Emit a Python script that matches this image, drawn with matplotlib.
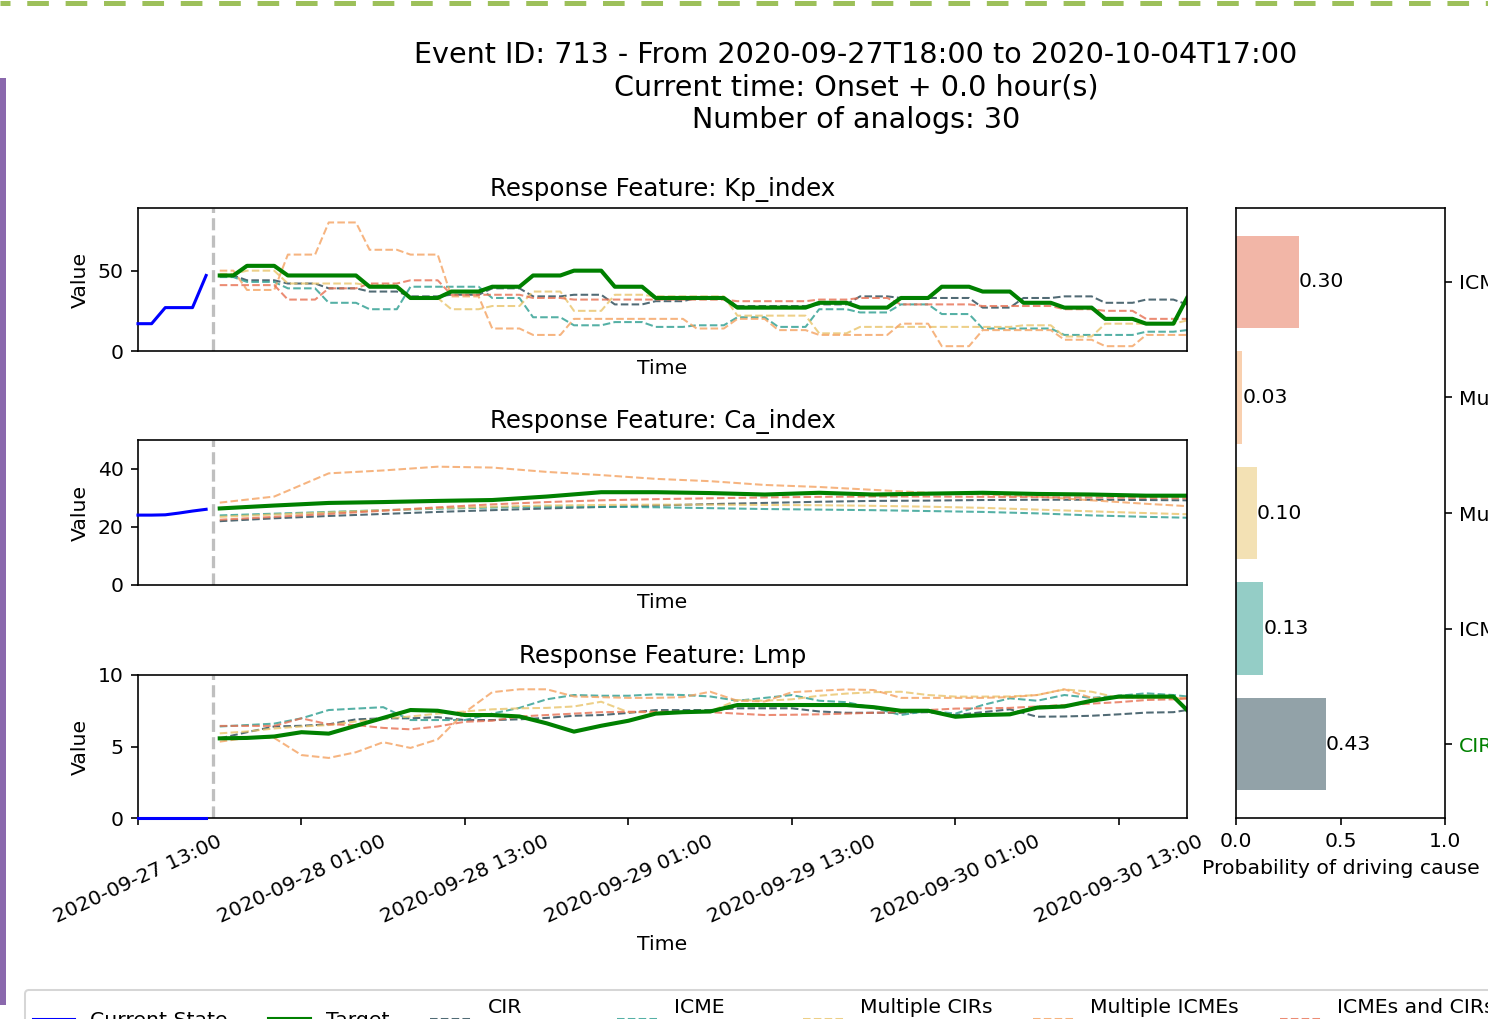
import numpy as np
import pandas as pd
import matplotlib
matplotlib.use("Agg")
import matplotlib.pyplot as plt
import matplotlib.dates as mdates
from matplotlib.lines import Line2D

# ---------------- data ----------------
categories = ["CIR", "ICME", "Multiple CIRs", "Multiple ICMEs", "ICMEs and CIRs"]
probabilities = [0.43, 0.13, 0.10, 0.03, 0.30]
target_category = "CIR"
category_colors = ["#264653", "#2a9d8f", "#e9c46a", "#f4a261", "#e76f51"]

current_times = pd.date_range("2020-09-27 13:00", periods=6, freq="h")
forecast_times = pd.date_range("2020-09-27 19:00", "2020-09-30 18:00", freq="h")
onset_time = pd.Timestamp("2020-09-27 18:30")
lmp_times = forecast_times[::2].append(forecast_times[-1:])
ca_times = forecast_times[::4].append(forecast_times[-1:])

# Kp_index (hourly)
kp_current = [17, 17, 27, 27, 27, 47]
kp_target = [47, 47,
             53, 53, 53, 47, 47, 47, 47, 47, 47, 40, 40, 40,
             33, 33, 33, 37, 37, 37, 40, 40, 40, 47, 47, 47,
             50, 50, 50, 40, 40, 40, 33, 33, 33, 33, 33, 33,
             27, 27, 27, 27, 27, 27, 30, 30, 30, 27, 27, 27,
             33, 33, 33, 40, 40, 40, 37, 37, 37, 30, 30, 30,
             27, 27, 27, 20, 20, 20, 17, 17, 17, 33]
kp_cir = [47, 47,
          44, 44, 44, 42, 42, 42, 39, 39, 39, 37, 37, 37,
          34, 34, 34, 35, 35, 35, 39, 39, 39, 34, 34, 34,
          35, 35, 35, 29, 29, 29, 31, 31, 31, 33, 33, 33,
          28, 28, 28, 28, 28, 28, 29, 29, 29, 34, 34, 34,
          33, 33, 33, 33, 33, 33, 27, 27, 27, 33, 33, 33,
          34, 34, 34, 30, 30, 30, 32, 32, 32, 29]
kp_icme = [46, 46,
           43, 43, 43, 39, 39, 39, 30, 30, 30, 26, 26, 26,
           40, 40, 40, 40, 40, 40, 33, 33, 33, 21, 21, 21,
           16, 16, 16, 18, 18, 18, 15, 15, 15, 16, 16, 16,
           21, 21, 21, 15, 15, 15, 26, 26, 26, 24, 24, 24,
           29, 29, 29, 23, 23, 23, 14, 14, 14, 14, 14, 14,
           10, 10, 10, 10, 10, 10, 12, 12, 12, 13]
kp_multi_cirs = [48, 48,
                 50, 50, 50, 42, 42, 42, 42, 42, 42, 41, 41, 41,
                 33, 33, 33, 26, 26, 26, 28, 28, 28, 37, 37, 37,
                 25, 25, 25, 35, 35, 35, 34, 34, 34, 34, 34, 34,
                 22, 22, 22, 22, 22, 22, 11, 11, 11, 15, 15, 15,
                 15, 15, 15, 15, 15, 15, 15, 15, 15, 16, 16, 16,
                 9, 9, 9, 17, 17, 17, 17, 17, 17, 19]
kp_multi_icmes = [50, 50,
                  38, 38, 38, 60, 60, 60, 80, 80, 80, 63, 63, 63,
                  60, 60, 60, 34, 34, 34, 14, 14, 14, 10, 10, 10,
                  20, 20, 20, 20, 20, 20, 20, 20, 20, 14, 14, 14,
                  20, 20, 20, 13, 13, 13, 10, 10, 10, 10, 10, 10,
                  17, 17, 17, 3, 3, 3, 13, 13, 13, 13, 13, 13,
                  7, 7, 7, 3, 3, 3, 10, 10, 10, 10]
kp_icmes_cirs = [41, 41,
                 41, 41, 41, 32, 32, 32, 39, 39, 39, 42, 42, 42,
                 44, 44, 44, 35, 35, 35, 35, 35, 35, 33, 33, 33,
                 32, 32, 32, 32, 32, 32, 32, 32, 32, 32, 32, 32,
                 31, 31, 31, 31, 31, 31, 32, 32, 32, 33, 33, 33,
                 29, 29, 29, 29, 29, 29, 28, 28, 28, 28, 28, 28,
                 26, 26, 26, 25, 25, 25, 20, 20, 20, 20]

# Ca_index (every 4 h + last hour)
ca_current = [24.1, 24.1, 24.2, 24.8, 25.5, 26.1]
ca_target = [26.4, 27.4, 28.3, 28.6, 29.0, 29.3, 30.5, 32.0, 32.0, 31.7,
             31.2, 31.8, 31.2, 31.5, 31.8, 31.4, 31.2, 30.8, 30.8]
ca_cir = [22.0, 23.0, 23.8, 24.5, 25.2, 25.8, 26.4, 26.9, 27.4, 27.9,
          28.3, 28.7, 29.0, 29.1, 29.3, 29.4, 29.4, 29.3, 29.2]
ca_icme = [24.0, 24.6, 25.2, 25.8, 26.3, 26.7, 27.0, 27.0, 26.8, 26.5,
           26.2, 26.0, 25.8, 25.5, 25.2, 24.7, 24.0, 23.5, 23.2]
ca_multi_cirs = [23.5, 24.3, 25.0, 25.8, 26.5, 27.0, 27.4, 27.6, 27.7, 27.7,
                 27.6, 27.5, 27.3, 27.0, 26.6, 26.0, 25.4, 24.8, 24.4]
ca_multi_icmes = [28.4, 30.5, 38.5, 39.5, 40.8, 40.5, 39.0, 37.9, 36.6, 35.8,
                  34.5, 33.8, 32.8, 31.8, 31.2, 30.5, 29.2, 28.0, 27.2]
ca_icmes_cirs = [22.5, 23.5, 24.5, 25.6, 26.8, 27.8, 28.6, 29.2, 29.6, 29.9,
                 30.2, 30.4, 30.5, 30.5, 30.4, 30.3, 30.2, 30.0, 29.9]

# Lmp (every 2 h + last hour)
lmp_current = [0, 0, 0, 0, 0, 0]
lmp_target = [5.57, 5.6, 5.7, 6.0, 5.9, 6.45, 7.0, 7.55, 7.5, 7.2, 7.2, 7.1,
              6.62, 6.04, 6.45, 6.8, 7.3, 7.4, 7.45, 7.9, 7.9, 7.9, 7.9, 7.9,
              7.75, 7.5, 7.5, 7.08, 7.2, 7.25, 7.72, 7.8, 8.2, 8.49, 8.49, 8.49, 7.55]
lmp_cir = [5.57, 6.0, 6.4, 6.45, 6.55, 6.9, 6.97, 6.97, 7.05, 6.85, 6.85, 6.9,
           7.0, 7.15, 7.2, 7.35, 7.55, 7.55, 7.55, 7.67, 7.67, 7.67, 7.45, 7.36,
           7.36, 7.36, 7.4, 7.2, 7.4, 7.6, 7.08, 7.1, 7.15, 7.25, 7.37, 7.4, 7.55]
lmp_icme = [6.4, 6.5, 6.6, 6.97, 7.55, 7.65, 7.75, 6.85, 6.85, 6.85, 7.3, 7.7,
            8.3, 8.6, 8.55, 8.55, 8.65, 8.6, 8.5, 8.2, 8.4, 8.6, 8.2, 8.1,
            7.7, 7.2, 7.5, 7.3, 7.9, 8.37, 8.2, 8.6, 8.4, 8.55, 8.72, 8.6, 8.5]
lmp_multi_cirs = [5.92, 6.05, 6.26, 6.4, 6.5, 6.75, 6.95, 7.1, 7.3, 7.45, 7.6, 7.67,
                  7.7, 7.8, 8.13, 7.4, 7.4, 7.4, 7.45, 8.25, 8.2, 8.3, 8.55, 8.7,
                  8.8, 8.83, 8.6, 8.49, 8.49, 8.5, 8.6, 8.99, 8.83, 8.4, 8.4, 8.4, 8.35]
lmp_multi_icmes = [5.34, 5.6, 5.6, 4.4, 4.2, 4.6, 5.3, 4.9, 5.5, 7.4, 8.8, 9.0,
                   9.0, 8.5, 8.45, 8.4, 8.4, 8.45, 8.83, 8.2, 8.15, 8.8, 8.9, 8.99,
                   8.95, 8.4, 8.4, 8.4, 8.4, 8.45, 8.6, 9.0, 8.4, 8.4, 8.4, 8.4, 8.4]
lmp_icmes_cirs = [6.44, 6.44, 6.44, 6.97, 6.55, 6.5, 6.3, 6.2, 6.4, 6.73, 6.8, 7.1,
                  7.2, 7.3, 7.4, 7.43, 7.43, 7.43, 7.4, 7.3, 7.2, 7.22, 7.25, 7.3,
                  7.36, 7.4, 7.55, 7.65, 7.67, 7.7, 7.8, 7.9, 8.0, 8.1, 8.25, 8.3, 8.35]

features = ["Kp_index", "Ca_index", "Lmp"]
ytick_values = [[0, 50], [0, 20, 40], [0, 5, 10]]
y_limits = [(0, 89), (0, 50), (0, 10)]

# ---------------- figure ----------------
W, H, DPI = 1488, 1019, 147
fig = plt.figure(figsize=(W / DPI, H / DPI), dpi=DPI)


def fr(x0, y0, x1, y1):
    return [x0 / W, 1 - y1 / H, (x1 - x0) / W, (y1 - y0) / H]


ax_kp = fig.add_axes(fr(138, 208, 1187, 351))
ax_ca = fig.add_axes(fr(138, 440, 1187, 585))
ax_lmp = fig.add_axes(fr(138, 675, 1187, 818))
ax_bar = fig.add_axes(fr(1236, 208, 1445, 818))

panels = [
    (ax_kp, forecast_times, kp_current, kp_target,
     [kp_cir, kp_icme, kp_multi_cirs, kp_multi_icmes, kp_icmes_cirs]),
    (ax_ca, ca_times, ca_current, ca_target,
     [ca_cir, ca_icme, ca_multi_cirs, ca_multi_icmes, ca_icmes_cirs]),
    (ax_lmp, lmp_times, lmp_current, lmp_target,
     [lmp_cir, lmp_icme, lmp_multi_cirs, lmp_multi_icmes, lmp_icmes_cirs]),
]

analog_handles = []
for i, (ax, times, cur, tgt, analogs) in enumerate(panels):
    hs = []
    for series, color in zip(analogs, category_colors):
        (h,) = ax.plot(times, series, linestyle="--", color=color, lw=1.0, alpha=0.8)
        hs.append(h)
    if i == 0:
        analog_handles = hs
    (h_tgt,) = ax.plot(times, tgt, color="green", lw=2.0)
    (h_cur,) = ax.plot(current_times, cur, color="blue", lw=1.5, zorder=3, clip_on=False)
    ax.axvline(onset_time, color="gray", linestyle="--", lw=1.6, alpha=0.5)
    ax.set_xlim(current_times[0], forecast_times[-1])
    ax.set_ylim(*y_limits[i])
    ax.set_yticks(ytick_values[i])
    ax.set_ylabel("Value")
    ax.set_xlabel("Time")
    ax.set_title(f"Response Feature: {features[i]}")
    if i < 2:
        ax.set_xticks([])
    if i == 0:
        target_handle, current_handle = h_tgt, h_cur

ax_lmp.xaxis.set_major_locator(mdates.HourLocator(byhour=[1, 13]))
ax_lmp.xaxis.set_major_formatter(mdates.DateFormatter("%Y-%m-%d %H:%M"))
for lab in ax_lmp.get_xticklabels():
    lab.set_rotation(25)
    lab.set_ha("center")

# ---------------- bar panel ----------------
ypos = np.arange(len(categories))
bars = ax_bar.barh(ypos, probabilities, color=category_colors, alpha=0.5, height=0.8)
ax_bar.bar_label(bars, fmt="%.2f")
ax_bar.set_xlim(0, 1)
ax_bar.set_xticks([0, 0.5, 1.0])
ax_bar.set_xlabel("Probability of driving cause")
ax_bar.set_yticks(ypos)
ax_bar.set_yticklabels(categories)
ax_bar.yaxis.tick_right()
for lab in ax_bar.get_yticklabels():
    if lab.get_text() == target_category:
        lab.set_color("green")

# ---------------- title ----------------
fig.text(856 / W, 1 - 87.5 / H,
         "Event ID: 713 - From 2020-09-27T18:00 to 2020-10-04T17:00\n"
         "Current time: Onset + 0.0 hour(s)\nNumber of analogs: 30",
         ha="center", va="center", fontsize=14, multialignment="center")

# ---------------- legend ----------------
labels = ["Current State", "Target"] + [
    f"{c}\np = {p:.2f}" for c, p in zip(categories, probabilities)]
fig.legend([current_handle, target_handle] + analog_handles, labels,
           loc="upper left", bbox_to_anchor=(25 / W, 1 - 990 / H),
           ncol=7, borderaxespad=0, fontsize=10)

# ---------------- page decorations (screenshot frame) ----------------
top_lw = 5 * 72 / DPI
fig.add_artist(Line2D([0, 1], [1 - 2.5 / H, 1 - 2.5 / H], transform=fig.transFigure,
                      color="#9dc05a", lw=top_lw, dash_capstyle="butt",
                      linestyle=(5.7 / top_lw, (10.6 / top_lw, 8.2 / top_lw))))
fig.add_artist(Line2D([3 / W, 3 / W], [1 - 78 / H, 1 - 1005 / H], transform=fig.transFigure,
                      color="#8a68ad", lw=6 * 72 / DPI, solid_capstyle="butt"))

fig.savefig("out.png", dpi=DPI)
